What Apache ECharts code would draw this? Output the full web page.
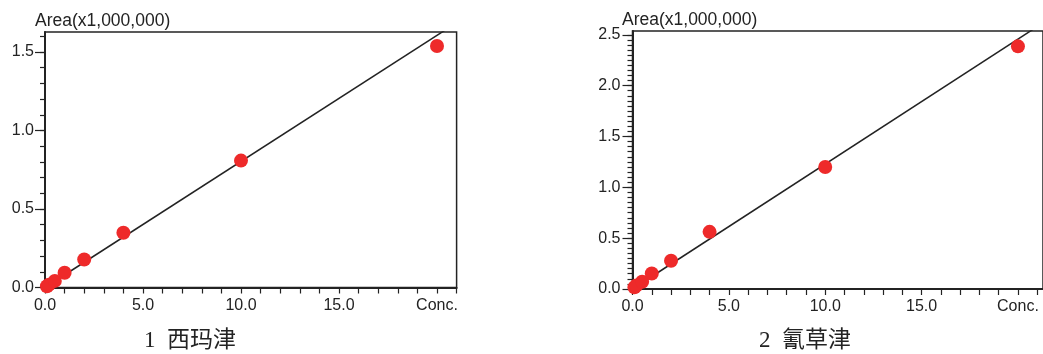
<!DOCTYPE html>
<html>
<head>
<meta charset="utf-8">
<script src="https://cdn.jsdelivr.net/npm/echarts@6.0.0/dist/echarts.min.js"></script>
<style>
  html, body { margin: 0; padding: 0; background: #fff; }
  #chart { width: 1043px; height: 354px; }
</style>
</head>
<body>
<div id="chart"></div>
<script>
// calibration data (x: Conc., y: Area x1,000,000)
const concLeft = [0.1, 0.2, 0.5, 1, 2, 4, 10, 20];
const areaLeft = [0.008, 0.018, 0.042, 0.094, 0.178, 0.349, 0.808, 1.538];
const fitLeft = [[0, 0], [21, 1.686]];

const concRight = [0.1, 0.2, 0.5, 1, 2, 4, 10, 20];
const areaRight = [0.016, 0.035, 0.071, 0.153, 0.278, 0.562, 1.2, 2.386];
const fitRight = [[0, 0], [21, 2.58]];

const titleLeft = '1  西玛津';
const titleRight = '2  氰草津';
const yName = 'Area(x1,000,000)';

// tick values
const xLabelTicks = [0, 5, 10, 15, 20];
const xTicks = [0, 1, 2, 3, 4, 5, 6, 7, 8, 9, 10, 11, 12, 13, 14, 15, 16, 17, 18, 19, 20, 21];
const yMajorLeft = [0, 0.5, 1.0, 1.5];
const yMajorRight = [0, 0.5, 1.0, 1.5, 2.0, 2.5];

const steps = (end, step) => {
  const out = [];
  for (let i = 0; i * step <= end + 1e-9; i++) out.push(+(i * step).toFixed(3));
  return out;
};
const yMinorLeft = steps(1.6, 0.1);
const yMinorRight = steps(2.5, 0.05);

const zip = (xs, ys) => xs.map((x, i) => [x, ys[i]]);

const ink = '#232323';
const sans = 'Liberation Sans, Arial, sans-serif';
const labelFont = { color: ink, fontSize: 16, fontFamily: sans };
const nameFont = { fontWeight: 'normal', fontSize: 17.5, color: ink, fontFamily: sans };
const captionFont = { fontWeight: 'normal', fontSize: 23, color: ink, fontFamily: '"Liberation Serif", "Noto Sans CJK SC", serif' };

const xAxisFor = (grid, max) => ({
  type: 'value', gridIndex: grid, min: 0, max: max,
  axisLine: { show: true, onZero: false, lineStyle: { color: ink, width: 2 } },
  axisTick: { show: true, length: 6, customValues: xTicks, lineStyle: { color: ink, width: 1.2 } },
  axisLabel: Object.assign({ margin: 10, customValues: xLabelTicks,
    formatter: v => (v === 20 ? 'Conc.' : v.toFixed(1)) }, labelFont),
  splitLine: { show: false }
});

const yMajor = (grid, max, ticks, margin) => ({
  type: 'value', gridIndex: grid, position: 'left', min: 0, max: max,
  axisLine: { show: true, onZero: false, lineStyle: { color: ink, width: 2 } },
  axisTick: { show: true, length: 10, customValues: ticks, lineStyle: { color: ink, width: 1.2 } },
  axisLabel: Object.assign({ margin: margin, customValues: ticks, formatter: v => v.toFixed(1) }, labelFont),
  splitLine: { show: false }
});

const yMinor = (grid, max, ticks) => ({
  type: 'value', gridIndex: grid, position: 'left', min: 0, max: max,
  axisLine: { show: false },
  axisTick: { show: true, length: 5, customValues: ticks, lineStyle: { color: ink, width: 1.2 } },
  axisLabel: { show: false },
  splitLine: { show: false }
});

const chart = echarts.init(document.getElementById('chart'));

chart.setOption({
  animation: false,
  title: [
    { text: yName, left: 35, top: 12, padding: 0, textStyle: nameFont },
    { text: yName, left: 622, top: 11, padding: 0, textStyle: nameFont },
    { text: titleLeft, left: 144, top: 329, padding: 0, textStyle: captionFont },
    { text: titleRight, left: 759, top: 329, padding: 0, textStyle: captionFont }
  ],
  grid: [
    { left: 45, top: 32, width: 411.6, height: 255.5, show: true, borderColor: ink, borderWidth: 1.5 },
    { left: 632.5, top: 31, width: 414, height: 258, show: true, borderColor: ink, borderWidth: 1.5 }
  ],
  xAxis: [xAxisFor(0, 21), xAxisFor(1, 21.3)],
  yAxis: [
    yMajor(0, 1.627, yMajorLeft, 11),
    yMinor(0, 1.627, yMinorLeft),
    yMajor(1, 2.537, yMajorRight, 12),
    yMinor(1, 2.537, yMinorRight)
  ],
  series: [
    { type: 'line', xAxisIndex: 0, yAxisIndex: 0, data: fitLeft, symbol: 'none',
      lineStyle: { color: ink, width: 1.5 }, clip: true, z: 2 },
    { type: 'scatter', xAxisIndex: 0, yAxisIndex: 0, data: zip(concLeft, areaLeft),
      symbolSize: 14, itemStyle: { color: '#ee2a2a', opacity: 1 }, z: 3 },
    { type: 'line', xAxisIndex: 1, yAxisIndex: 2, data: fitRight, symbol: 'none',
      lineStyle: { color: ink, width: 1.5 }, clip: true, z: 2 },
    { type: 'scatter', xAxisIndex: 1, yAxisIndex: 2, data: zip(concRight, areaRight),
      symbolSize: 14, itemStyle: { color: '#ee2a2a', opacity: 1 }, z: 3 }
  ]
});
</script>
</body>
</html>
